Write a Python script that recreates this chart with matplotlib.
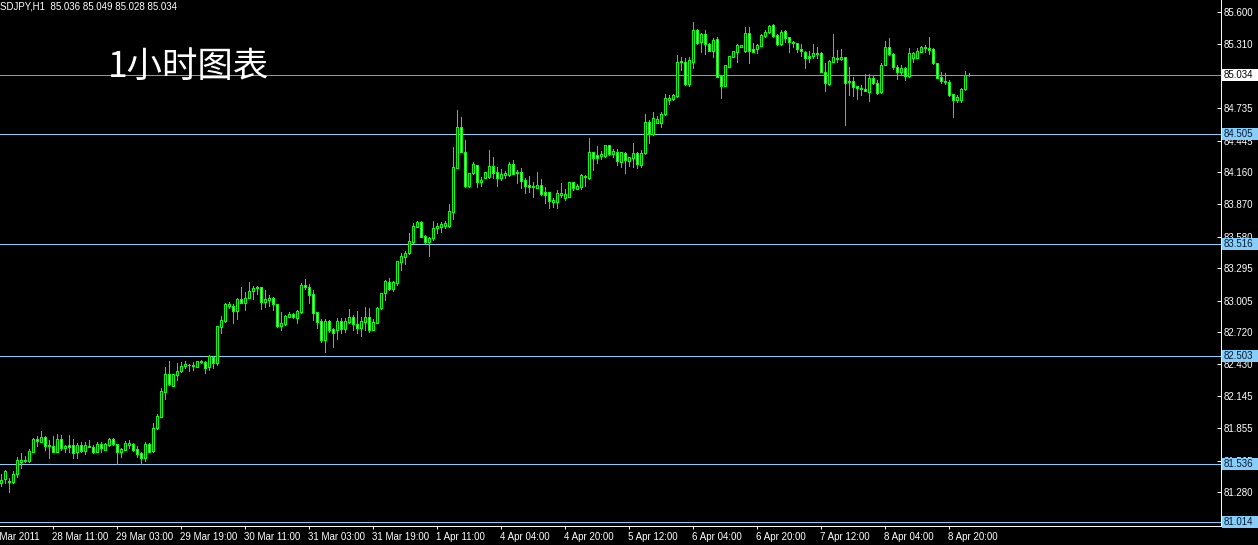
import matplotlib
matplotlib.use("Agg")
import matplotlib.pyplot as plt
from matplotlib.patches import Rectangle
from matplotlib.transforms import blended_transform_factory
import numpy as np

plt.rcParams['font.family'] = ['Liberation Sans', 'DejaVu Sans']

# ---------------- data (USDJPY, H1) ----------------
opens = [
81.363, 81.399, 81.381, 81.372, 81.444, 81.552, 81.561, 81.561, 81.642, 81.759,
81.732, 81.777, 81.696, 81.696, 81.642, 81.759, 81.678, 81.705, 81.705, 81.642,
81.705, 81.651, 81.687, 81.687, 81.642, 81.714, 81.660, 81.705, 81.759, 81.714,
81.642, 81.660, 81.705, 81.714, 81.669, 81.633, 81.588, 81.714, 81.651, 81.858,
81.957, 82.182, 82.344, 82.236, 82.335, 82.371, 82.416, 82.425, 82.416, 82.407,
82.452, 82.452, 82.407, 82.497, 82.443, 82.767, 82.821, 82.956, 82.956, 82.911,
83.019, 82.983, 83.028, 83.091, 83.118, 83.127, 82.992, 83.010, 83.028, 82.974,
82.776, 82.794, 82.857, 82.884, 82.848, 82.902, 83.145, 83.127, 83.064, 82.902,
82.821, 82.650, 82.821, 82.749, 82.740, 82.821, 82.749, 82.812, 82.857, 82.794,
82.758, 82.812, 82.857, 82.740, 82.803, 82.938, 83.073, 83.172, 83.109, 83.163,
83.352, 83.397, 83.433, 83.532, 83.667, 83.712, 83.586, 83.532, 83.568, 83.658,
83.667, 83.676, 83.676, 83.802, 84.198, 84.567, 84.342, 84.036, 84.153, 84.225,
84.072, 84.108, 84.117, 84.216, 84.162, 84.108, 84.135, 84.135, 84.234, 84.162,
84.162, 84.090, 84.045, 84.036, 84.018, 84.045, 83.982, 83.982, 83.892, 83.892,
83.955, 83.928, 83.937, 84.072, 84.009, 84.027, 84.117, 84.108, 84.342, 84.315,
84.306, 84.306, 84.405, 84.324, 84.342, 84.252, 84.333, 84.261, 84.288, 84.333,
84.225, 84.333, 84.612, 84.504, 84.603, 84.603, 84.684, 84.810, 84.819, 84.846,
85.152, 85.152, 84.954, 85.152, 85.440, 85.332, 85.404, 85.314, 85.251, 85.359,
85.026, 84.936, 85.107, 85.197, 85.242, 85.287, 85.251, 85.413, 85.269, 85.269,
85.296, 85.386, 85.422, 85.485, 85.395, 85.314, 85.431, 85.377, 85.332, 85.323,
85.269, 85.242, 85.206, 85.206, 85.233, 85.233, 85.062, 84.954, 85.152, 85.188,
85.179, 85.197, 84.981, 84.981, 84.936, 84.918, 84.909, 84.882, 85.008, 84.963,
84.882, 85.125, 85.287, 85.224, 85.107, 85.062, 85.098, 85.026, 85.188, 85.188,
85.242, 85.278, 85.278, 85.269, 85.143, 85.017, 84.981, 84.972, 84.864, 84.810,
84.810, 84.909, 85.036]

highs = [
81.444, 81.480, 81.408, 81.471, 81.597, 81.633, 81.606, 81.669, 81.768, 81.786,
81.831, 81.786, 81.750, 81.786, 81.804, 81.795, 81.705, 81.795, 81.759, 81.723,
81.732, 81.732, 81.750, 81.705, 81.732, 81.732, 81.723, 81.768, 81.768, 81.714,
81.678, 81.741, 81.750, 81.723, 81.696, 81.642, 81.732, 81.723, 81.903, 81.984,
82.218, 82.407, 82.461, 82.344, 82.443, 82.452, 82.461, 82.434, 82.452, 82.461,
82.470, 82.461, 82.515, 82.506, 82.776, 82.866, 82.983, 82.992, 82.974, 83.028,
83.127, 83.082, 83.172, 83.136, 83.136, 83.127, 83.100, 83.055, 83.037, 82.974,
82.902, 82.875, 82.902, 82.893, 82.920, 83.163, 83.199, 83.154, 83.100, 82.902,
82.839, 82.839, 82.830, 82.758, 82.848, 82.848, 82.848, 82.929, 82.875, 82.911,
82.857, 82.947, 82.938, 82.839, 82.947, 83.073, 83.190, 83.208, 83.181, 83.361,
83.433, 83.451, 83.613, 83.703, 83.721, 83.721, 83.595, 83.577, 83.721, 83.703,
83.712, 83.721, 83.874, 84.387, 84.720, 84.657, 84.450, 84.153, 84.252, 84.225,
84.117, 84.162, 84.360, 84.297, 84.207, 84.189, 84.171, 84.252, 84.270, 84.180,
84.198, 84.108, 84.126, 84.072, 84.162, 84.099, 84.027, 83.982, 83.928, 84.000,
84.063, 84.009, 84.072, 84.072, 84.054, 84.144, 84.135, 84.468, 84.342, 84.396,
84.351, 84.405, 84.405, 84.369, 84.369, 84.342, 84.342, 84.297, 84.423, 84.342,
84.360, 84.684, 84.630, 84.702, 84.666, 84.702, 84.864, 84.855, 84.864, 85.215,
85.197, 85.188, 85.197, 85.512, 85.449, 85.413, 85.440, 85.323, 85.368, 85.377,
85.026, 85.125, 85.206, 85.251, 85.314, 85.305, 85.467, 85.467, 85.323, 85.314,
85.404, 85.440, 85.485, 85.494, 85.404, 85.440, 85.440, 85.377, 85.341, 85.323,
85.314, 85.251, 85.251, 85.314, 85.287, 85.242, 85.143, 85.170, 85.404, 85.260,
85.269, 85.197, 85.107, 85.017, 84.936, 84.945, 85.044, 85.044, 85.035, 84.990,
85.143, 85.341, 85.368, 85.233, 85.125, 85.125, 85.107, 85.278, 85.242, 85.278,
85.296, 85.305, 85.377, 85.278, 85.143, 85.062, 85.053, 84.990, 84.864, 84.855,
84.918, 85.071, 85.049]

lows = [
81.336, 81.363, 81.282, 81.363, 81.417, 81.498, 81.552, 81.552, 81.642, 81.696,
81.732, 81.660, 81.588, 81.642, 81.642, 81.660, 81.642, 81.642, 81.588, 81.588,
81.642, 81.624, 81.687, 81.633, 81.642, 81.642, 81.660, 81.696, 81.705, 81.534,
81.597, 81.660, 81.678, 81.651, 81.597, 81.534, 81.561, 81.642, 81.642, 81.849,
81.957, 82.119, 82.245, 82.236, 82.290, 82.362, 82.398, 82.371, 82.380, 82.407,
82.443, 82.353, 82.380, 82.398, 82.425, 82.713, 82.812, 82.938, 82.803, 82.839,
82.983, 82.920, 83.028, 83.019, 83.064, 82.929, 82.947, 82.956, 82.920, 82.767,
82.740, 82.785, 82.857, 82.848, 82.803, 82.893, 83.109, 82.983, 82.830, 82.758,
82.632, 82.542, 82.722, 82.587, 82.659, 82.713, 82.722, 82.803, 82.740, 82.713,
82.686, 82.740, 82.722, 82.740, 82.803, 82.929, 83.010, 83.100, 83.091, 83.145,
83.280, 83.334, 83.424, 83.523, 83.667, 83.577, 83.523, 83.406, 83.550, 83.613,
83.622, 83.658, 83.667, 83.739, 84.198, 84.342, 84.027, 84.027, 84.144, 84.027,
84.036, 84.108, 84.108, 84.108, 84.036, 84.090, 84.108, 84.126, 84.144, 84.063,
84.018, 83.973, 83.982, 83.937, 84.018, 83.955, 83.883, 83.838, 83.847, 83.838,
83.937, 83.910, 83.937, 84.000, 84.009, 84.009, 84.036, 84.099, 84.180, 84.243,
84.279, 84.297, 84.315, 84.297, 84.225, 84.207, 84.153, 84.216, 84.207, 84.198,
84.207, 84.324, 84.423, 84.495, 84.603, 84.567, 84.675, 84.774, 84.810, 84.837,
85.080, 84.945, 84.936, 85.098, 85.314, 85.242, 85.224, 85.251, 85.197, 85.017,
84.828, 84.936, 85.107, 85.197, 85.152, 85.287, 85.242, 85.143, 85.242, 85.233,
85.296, 85.377, 85.413, 85.377, 85.305, 85.305, 85.332, 85.242, 85.287, 85.242,
85.206, 85.098, 85.152, 85.188, 85.188, 85.062, 84.891, 84.945, 85.152, 85.152,
85.170, 84.585, 84.855, 84.846, 84.819, 84.855, 84.891, 84.801, 84.954, 84.864,
84.873, 85.125, 85.215, 85.089, 84.999, 85.044, 84.990, 85.017, 85.152, 85.188,
85.242, 85.242, 85.224, 85.134, 85.008, 84.963, 84.954, 84.846, 84.657, 84.792,
84.792, 84.900, 85.028]

closes = [
81.390, 81.471, 81.372, 81.444, 81.570, 81.570, 81.570, 81.651, 81.759, 81.741,
81.777, 81.696, 81.705, 81.642, 81.759, 81.678, 81.696, 81.687, 81.633, 81.705,
81.651, 81.705, 81.696, 81.642, 81.714, 81.678, 81.714, 81.759, 81.714, 81.642,
81.669, 81.723, 81.723, 81.660, 81.624, 81.588, 81.714, 81.642, 81.858, 81.966,
82.191, 82.344, 82.254, 82.344, 82.371, 82.416, 82.434, 82.428, 82.425, 82.461,
82.461, 82.398, 82.506, 82.443, 82.776, 82.830, 82.974, 82.974, 82.911, 83.019,
82.983, 83.028, 83.091, 83.118, 83.127, 82.992, 83.019, 83.028, 82.974, 82.776,
82.803, 82.866, 82.884, 82.857, 82.911, 83.145, 83.127, 83.055, 82.893, 82.812,
82.650, 82.821, 82.740, 82.713, 82.821, 82.749, 82.821, 82.857, 82.794, 82.758,
82.821, 82.857, 82.740, 82.812, 82.938, 83.073, 83.181, 83.109, 83.172, 83.361,
83.406, 83.433, 83.541, 83.676, 83.712, 83.577, 83.532, 83.568, 83.658, 83.676,
83.694, 83.703, 83.811, 84.207, 84.567, 84.342, 84.036, 84.153, 84.234, 84.072,
84.090, 84.162, 84.216, 84.153, 84.108, 84.144, 84.153, 84.234, 84.144, 84.153,
84.081, 84.036, 84.027, 84.027, 84.045, 83.964, 83.955, 83.901, 83.910, 83.973,
83.973, 83.964, 84.072, 84.018, 84.036, 84.135, 84.130, 84.342, 84.288, 84.288,
84.324, 84.405, 84.324, 84.351, 84.261, 84.342, 84.270, 84.297, 84.333, 84.234,
84.333, 84.612, 84.504, 84.648, 84.639, 84.684, 84.828, 84.828, 84.855, 85.152,
85.161, 84.954, 85.170, 85.440, 85.323, 85.404, 85.314, 85.251, 85.350, 85.017,
84.936, 85.125, 85.206, 85.251, 85.305, 85.305, 85.413, 85.251, 85.242, 85.305,
85.395, 85.422, 85.476, 85.386, 85.314, 85.422, 85.368, 85.332, 85.323, 85.269,
85.251, 85.188, 85.188, 85.233, 85.224, 85.062, 84.963, 85.161, 85.197, 85.179,
85.197, 84.963, 84.972, 84.927, 84.918, 84.909, 84.891, 85.008, 84.963, 84.873,
85.125, 85.287, 85.224, 85.107, 85.062, 85.098, 85.026, 85.233, 85.233, 85.251,
85.287, 85.287, 85.260, 85.143, 85.008, 84.981, 84.972, 84.855, 84.810, 84.837,
84.909, 85.035, 85.034]

# horizontal level lines drawn on the chart
levels = [84.505, 83.516, 82.503, 81.536, 81.014]
current_price = 85.034

# price scale ticks
ytick_vals = [85.600, 85.310, 84.735, 84.445, 84.160, 83.870, 83.580, 83.295,
              83.005, 82.720, 82.430, 82.145, 81.855, 81.565, 81.280]

# time scale (bar index -> label)
xtick_bars = [13, 29, 45, 61, 77, 93, 109, 125, 141, 157, 173, 189, 205, 221, 237]
xtick_labels = ["28 Mar 11:00", "29 Mar 03:00", "29 Mar 19:00", "30 Mar 11:00",
                "31 Mar 03:00", "31 Mar 19:00", "1 Apr 11:00", "4 Apr 04:00",
                "4 Apr 20:00", "5 Apr 12:00", "6 Apr 04:00", "6 Apr 20:00",
                "7 Apr 12:00", "8 Apr 04:00", "8 Apr 20:00"]
first_label = "27 Mar 2011"

header = "USDJPY,H1  85.036 85.049 85.028 85.034"
big_title = "1小时图表"

# ---------------- drawing ----------------
GREEN = '#00ff00'
SKY = '#87cefa'
GRAY = '#8f98a6'
LW = 0.7   # ~1 pixel

W, H = 1258, 545
AXR, AXB = 1221, 526
fig = plt.figure(figsize=(W / 100, H / 100), dpi=100, facecolor='black')
ax = fig.add_axes([0, (H - AXB) / H, AXR / W, AXB / H])
ax.set_facecolor('black')

o = np.array(opens); h = np.array(highs); l = np.array(lows); c = np.array(closes)
n = len(o)
x = np.arange(n)
ax.set_xlim(-0.125, -0.125 + AXR / 4)
ax.set_ylim(80.976, 85.71)

for lv in levels:
    ax.axhline(lv, color=SKY, lw=LW, antialiased=False, zorder=1)
ax.axhline(current_price, color=GRAY, lw=LW, antialiased=False, zorder=1)

ax.vlines(x, l, h, color=GREEN, lw=LW, antialiased=False, zorder=2)
up = c >= o
ax.bar(x, np.abs(c - o), bottom=np.minimum(o, c), width=0.5,
       color=np.where(up, 'black', 'white'), edgecolor=GREEN, linewidth=LW,
       antialiased=False, zorder=3)

for s in ['left', 'top']:
    ax.spines[s].set_visible(False)
for s in ['bottom', 'right']:
    ax.spines[s].set_color('white')
    ax.spines[s].set_linewidth(LW)

ax.yaxis.tick_right()
ax.set_yticks(ytick_vals)
ax.set_yticklabels([f"{v:.3f}" for v in ytick_vals])
ax.tick_params(axis='y', direction='in', length=3, width=LW, colors='white',
               labelsize=7, pad=2)
ax.set_xticks(xtick_bars)
ax.set_xticklabels(xtick_labels, ha='left')
ax.tick_params(axis='x', direction='out', length=2.5, width=LW, colors='white',
               labelsize=7, pad=1.5)

# partially hidden first date label
ax.text(-3.5, -0.012, first_label, transform=blended_transform_factory(ax.transData, ax.transAxes),
        color='white', fontsize=7, ha='left', va='top', clip_on=False)

# level labels on the price scale
tb = blended_transform_factory(fig.transFigure, ax.transData)
box_h = 12 * (85.71 - 80.976) / AXB
for lv in levels:
    fig.add_artist(Rectangle((1222 / W, lv - box_h / 2), 36 / W, box_h, transform=tb,
                             facecolor=SKY, edgecolor='none', zorder=5))
    fig.text(1224 / W, lv, f"{lv:.3f}", transform=tb, color='#0a1a30', fontsize=7,
             ha='left', va='center', zorder=6)
fig.add_artist(Rectangle((1222 / W, current_price - box_h / 2), 36 / W, box_h, transform=tb,
                         facecolor='white', edgecolor='none', zorder=5))
fig.text(1224 / W, current_price, f"{current_price:.3f}", transform=tb, color='black',
         fontsize=7, ha='left', va='center', zorder=6)

# header and big caption
fig.text(-7 / W, 1 - 1.5 / H, header, color='white', fontsize=7, ha='left', va='top')
fig.text(108 / W, 1 - 67 / H, big_title, color='white', fontsize=25.5, ha='left', va='center',
         family=['Noto Sans CJK SC', 'DejaVu Sans'])

fig.savefig('out.png', dpi=100, facecolor='black')
